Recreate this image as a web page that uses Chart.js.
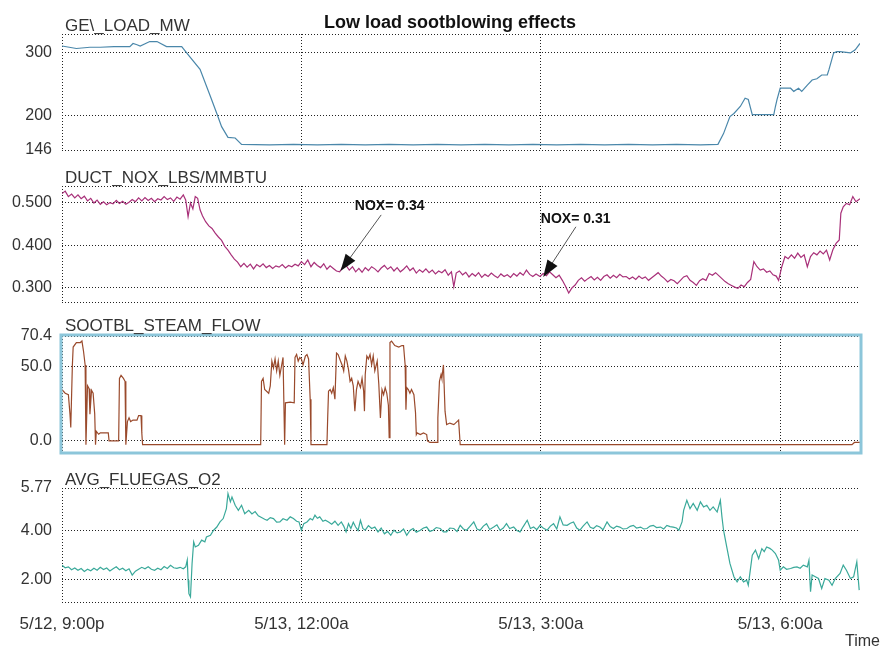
<!DOCTYPE html>
<html>
<head>
<meta charset="utf-8">
<script src="https://cdn.jsdelivr.net/npm/chart.js@4.4.0/dist/chart.umd.min.js"></script>
<style>
  body { margin: 0; background: #fff; }
  #wrap { position: relative; width: 883px; height: 650px; }
  .panel { position: absolute; left: 0; width: 883px; }
</style>
</head>
<body>
<div id="wrap">
  <div class="panel" style="top:0;height:160px"><canvas id="loadChart" width="883" height="160"></canvas></div>
  <div class="panel" style="top:160px;height:155px"><canvas id="noxChart" width="883" height="155"></canvas></div>
  <div class="panel" style="top:315px;height:145px"><canvas id="sootChart" width="883" height="145"></canvas></div>
  <div class="panel" style="top:460px;height:190px"><canvas id="o2Chart" width="883" height="190"></canvas></div>
</div>
<script>
// hours after 5/12 9:00p
const timeTicks = [0, 3, 6, 9];
const timeLabels = ["5/12, 9:00p", "5/13, 12:00a", "5/13, 3:00a", "5/13, 6:00a"];

// === GE\_LOAD_MW ===
const loadHours = [0, 0.18, 0.35, 0.48, 0.65, 0.85, 0.89, 0.94, 0.98, 1.10, 1.19, 1.31, 1.50, 1.60, 1.73, 1.86, 1.94, 2.00, 2.08, 2.17, 2.25,
  2.6, 2.9, 3.2, 3.5, 3.8, 4.1, 4.4, 4.7, 5.0, 5.3, 5.6, 5.9, 6.2, 6.5, 6.8, 7.1, 7.4, 7.7, 8.0, 8.22,
  8.29, 8.37, 8.42, 8.50, 8.56, 8.60, 8.65, 8.69, 8.92, 8.94, 8.96, 9.00, 9.13, 9.17, 9.23, 9.27, 9.34, 9.40, 9.46, 9.52, 9.59, 9.61, 9.67, 9.71, 9.75, 9.88, 9.94, 10.0];
const loadMW = [311, 307, 309, 309, 310, 310, 315, 313, 311, 318, 318, 310, 310, 294, 274, 231, 204, 183, 166, 165, 155,
  154, 155, 154, 155, 154, 155, 154, 155, 154, 155, 154, 155, 154, 155, 154, 155, 154, 155, 154, 155,
  172, 199, 204, 215, 228, 226, 202, 202, 202, 215, 226, 244, 244, 239, 244, 239, 249, 257, 259, 265, 265, 273, 300, 302, 302, 300, 305, 315];

// === DUCT_NOX_LBS/MMBTU ===
const noxHours = [0.00, 0.04, 0.08, 0.12, 0.16, 0.20, 0.24, 0.28, 0.32, 0.36, 0.40, 0.44, 0.48, 0.52, 0.56, 0.60, 0.64, 0.68, 0.72, 0.76,
  0.80, 0.84, 0.88, 0.92, 0.96, 1.00, 1.04, 1.08, 1.12, 1.16, 1.20, 1.24, 1.28, 1.32, 1.36, 1.40, 1.44, 1.48, 1.52, 1.55,
  1.58, 1.61, 1.64, 1.67, 1.70, 1.73, 1.76, 1.80, 1.84, 1.88, 1.92, 1.96, 2.00, 2.04, 2.08, 2.12, 2.16, 2.20, 2.24, 2.28,
  2.32, 2.36, 2.40, 2.44, 2.48, 2.52, 2.56, 2.60, 2.64, 2.68, 2.72, 2.76, 2.80, 2.84, 2.88, 2.92, 2.96, 3.00, 3.04, 3.08,
  3.12, 3.16, 3.20, 3.24, 3.28, 3.32, 3.36, 3.40, 3.44, 3.48, 3.52, 3.56, 3.60, 3.64, 3.68, 3.72, 3.76, 3.80, 3.84, 3.88,
  3.92, 3.96, 4.00, 4.04, 4.08, 4.12, 4.16, 4.20, 4.24, 4.28, 4.32, 4.36, 4.40, 4.44, 4.48, 4.52, 4.56, 4.60, 4.64, 4.68,
  4.72, 4.76, 4.80, 4.84, 4.88, 4.91, 4.94, 4.98, 5.02, 5.06, 5.10, 5.14, 5.18, 5.22, 5.26, 5.30, 5.34, 5.38, 5.42, 5.46,
  5.50, 5.54, 5.58, 5.62, 5.66, 5.70, 5.74, 5.78, 5.82, 5.86, 5.90, 5.94, 5.99, 6.03, 6.07, 6.11, 6.15, 6.19, 6.23, 6.27,
  6.31, 6.35, 6.39, 6.43, 6.47, 6.51, 6.55, 6.59, 6.63, 6.67, 6.71, 6.75, 6.79, 6.83, 6.87, 6.91, 6.95, 6.99, 7.03, 7.07,
  7.11, 7.15, 7.19, 7.23, 7.27, 7.31, 7.35, 7.39, 7.43, 7.47, 7.51, 7.55, 7.59, 7.63, 7.67, 7.71, 7.75, 7.79, 7.83, 7.87,
  7.91, 7.95, 7.99, 8.03, 8.07, 8.11, 8.15, 8.19, 8.23, 8.27, 8.31, 8.35, 8.39, 8.43, 8.47, 8.51, 8.55, 8.59, 8.63, 8.67,
  8.71, 8.75, 8.79, 8.83, 8.87, 8.91, 8.95, 8.98, 9.02, 9.06, 9.10, 9.14, 9.18, 9.22, 9.26, 9.30, 9.34, 9.38, 9.42, 9.46,
  9.50, 9.54, 9.58, 9.62, 9.66, 9.70, 9.74, 9.76, 9.79, 9.83, 9.87, 9.91, 9.95, 10.0];
const noxLbs = [0.522, 0.528, 0.515, 0.521, 0.512, 0.519, 0.510, 0.516, 0.505, 0.511, 0.500, 0.507, 0.497, 0.503, 0.496, 0.501, 0.498, 0.506, 0.499, 0.504,
  0.497, 0.502, 0.508, 0.503, 0.512, 0.505, 0.513, 0.506, 0.511, 0.503, 0.510, 0.507, 0.515, 0.508, 0.512, 0.504, 0.514, 0.509, 0.519, 0.507,
  0.468, 0.500, 0.486, 0.515, 0.511, 0.484, 0.470, 0.456, 0.446, 0.440, 0.429, 0.420, 0.412, 0.398, 0.389, 0.378, 0.368, 0.361, 0.350, 0.358,
  0.349, 0.356, 0.345, 0.355, 0.350, 0.357, 0.348, 0.353, 0.346, 0.352, 0.349, 0.355, 0.347, 0.353, 0.350, 0.356, 0.352, 0.362, 0.355, 0.366,
  0.350, 0.360, 0.353, 0.348, 0.357, 0.344, 0.352, 0.346, 0.340, 0.338, 0.350, 0.353, 0.342, 0.350, 0.338, 0.346, 0.337, 0.348, 0.341, 0.350,
  0.345, 0.338, 0.347, 0.353, 0.344, 0.350, 0.340, 0.348, 0.338, 0.344, 0.352, 0.341, 0.347, 0.335, 0.343, 0.337, 0.345, 0.336, 0.342, 0.333,
  0.340, 0.336, 0.343, 0.330, 0.338, 0.303, 0.335, 0.340, 0.331, 0.337, 0.326, 0.334, 0.328, 0.336, 0.325, 0.332, 0.327, 0.335, 0.329, 0.324,
  0.333, 0.327, 0.331, 0.325, 0.334, 0.328, 0.336, 0.330, 0.342, 0.332, 0.327, 0.333, 0.327, 0.334, 0.329, 0.338, 0.331, 0.324, 0.330, 0.318,
  0.304, 0.288, 0.300, 0.307, 0.318, 0.324, 0.316, 0.322, 0.327, 0.319, 0.325, 0.318, 0.327, 0.331, 0.323, 0.330, 0.324, 0.332, 0.326, 0.327,
  0.321, 0.326, 0.320, 0.328, 0.322, 0.326, 0.318, 0.324, 0.330, 0.336, 0.328, 0.322, 0.314, 0.320, 0.317, 0.310, 0.318, 0.326, 0.329, 0.318,
  0.313, 0.306, 0.317, 0.322, 0.318, 0.334, 0.330, 0.336, 0.329, 0.322, 0.315, 0.310, 0.306, 0.302, 0.299, 0.307, 0.303, 0.313, 0.320, 0.362,
  0.350, 0.342, 0.345, 0.337, 0.340, 0.331, 0.328, 0.318, 0.350, 0.374, 0.369, 0.378, 0.370, 0.382, 0.372, 0.378, 0.350, 0.374, 0.383, 0.378,
  0.387, 0.380, 0.389, 0.366, 0.390, 0.405, 0.413, 0.476, 0.491, 0.499, 0.496, 0.515, 0.503, 0.510];

// === SOOTBL_STEAM_FLOW ===
const sootHours = [0.00, 0.04, 0.08, 0.10, 0.11, 0.13, 0.14, 0.18, 0.23, 0.25, 0.27, 0.29, 0.30, 0.32, 0.34, 0.35, 0.37, 0.39, 0.41, 0.42,
  0.43, 0.46, 0.48, 0.58, 0.59, 0.71, 0.72, 0.74, 0.77, 0.79, 0.80, 0.82, 0.84, 0.86, 0.89, 0.94, 0.96, 0.99, 1.00, 1.01,
  2.49, 2.50, 2.52, 2.54, 2.59, 2.61, 2.63, 2.65, 2.67, 2.69, 2.71, 2.73, 2.76, 2.77, 2.79, 2.80, 2.86, 2.91, 2.92, 2.94,
  2.96, 2.98, 3.00, 3.02, 3.05, 3.07, 3.09, 3.11, 3.12, 3.32, 3.33, 3.34, 3.36, 3.38, 3.40, 3.42, 3.44, 3.46, 3.49, 3.51,
  3.53, 3.55, 3.57, 3.59, 3.61, 3.63, 3.65, 3.67, 3.69, 3.71, 3.74, 3.76, 3.78, 3.79, 3.80, 3.82, 3.84, 3.86, 3.88, 3.90,
  3.92, 3.95, 3.97, 3.99, 4.01, 4.03, 4.05, 4.07, 4.09, 4.10, 4.11, 4.13, 4.17, 4.22, 4.26, 4.28, 4.30, 4.31, 4.32, 4.34,
  4.36, 4.38, 4.41, 4.43, 4.44, 4.45, 4.49, 4.53, 4.57, 4.58, 4.61, 4.70, 4.71, 4.73, 4.75, 4.76, 4.78, 4.80, 4.82, 4.86,
  4.91, 4.95, 4.97, 4.99, 9.90, 9.93, 10.0];
const sootFlow = [34.5, 32, 31, 18, 9, 51, 63, 66, 66, 67, 60, 51, -2.5, 37, 35, 18, 34, 32, 18, -2.5,
  6.5, 4.5, 5.4, 5.4, 0, 0, 42, 44, 42, 40, -2.5, 13, 15.5, 13, 14, 14, 17, 17, 5.4, -2.5,
  -2.5, 40, 42, 34.5, 32, 37, 53.6, 49, 55, 47, 53.6, 44, 53, 56, -2.5, 25.6, 26, 25.6, 56, 58,
  53.6, 56, 55, 51, 57, 58, 55, 28, -2.5, -2.5, 16.6, 33.4, 34.5, 32, 35.8, 28, 59, 58, 53.6, 51,
  47, 57, 53.6, 48, 40, 42, 37, 20, 34.5, 40, 35.8, 42, 33.4, 20, 44.6, 57, 55, 58, 51, 57,
  47, 53.6, 38, 15.5, 34.5, 31, 35.8, 32, 24, 2.3, 66, 67, 64, 63, 64, 64, 51, 21, 35.8, 34.5,
  32, 34.5, 31, 19, 4.3, 5.4, 4.3, 5.4, 4.3, 0, -1, -1, 15.5, 40, 44.6, 42, 51, 20, 11, 12,
  11, 13, 14, -2.5, -2.5, -1, -1];

// === AVG_FLUEGAS_O2 ===
const o2Hours = [0.00, 0.04, 0.08, 0.12, 0.16, 0.20, 0.24, 0.28, 0.32, 0.36, 0.40, 0.44, 0.48, 0.52, 0.56, 0.60, 0.64, 0.68, 0.72, 0.76,
  0.80, 0.84, 0.88, 0.92, 0.96, 1.00, 1.04, 1.08, 1.12, 1.16, 1.20, 1.24, 1.28, 1.32, 1.36, 1.40, 1.44, 1.48, 1.52, 1.55,
  1.57, 1.58, 1.59, 1.61, 1.62, 1.63, 1.65, 1.67, 1.71, 1.75, 1.79, 1.81, 1.86, 1.90, 1.94, 1.98, 2.02, 2.06, 2.08, 2.11,
  2.13, 2.17, 2.21, 2.25, 2.29, 2.34, 2.38, 2.42, 2.46, 2.50, 2.54, 2.57, 2.61, 2.65, 2.69, 2.73, 2.77, 2.82, 2.86, 2.90,
  2.94, 2.97, 3.00, 3.03, 3.07, 3.11, 3.14, 3.17, 3.20, 3.23, 3.27, 3.30, 3.34, 3.38, 3.42, 3.46, 3.50, 3.53, 3.56, 3.59,
  3.62, 3.65, 3.68, 3.71, 3.74, 3.77, 3.80, 3.84, 3.88, 3.92, 3.96, 4.00, 4.04, 4.08, 4.12, 4.16, 4.20, 4.24, 4.28, 4.32,
  4.36, 4.40, 4.44, 4.49, 4.53, 4.57, 4.61, 4.65, 4.69, 4.74, 4.78, 4.82, 4.86, 4.91, 4.95, 4.99, 5.03, 5.07, 5.11, 5.16,
  5.20, 5.24, 5.28, 5.32, 5.36, 5.41, 5.45, 5.49, 5.53, 5.57, 5.61, 5.66, 5.70, 5.74, 5.78, 5.83, 5.87, 5.91, 5.95, 5.99,
  6.03, 6.08, 6.12, 6.16, 6.20, 6.24, 6.28, 6.33, 6.37, 6.41, 6.45, 6.49, 6.53, 6.58, 6.62, 6.66, 6.70, 6.74, 6.78, 6.83,
  6.87, 6.91, 6.95, 6.99, 7.03, 7.08, 7.12, 7.16, 7.20, 7.25, 7.29, 7.33, 7.37, 7.41, 7.45, 7.50, 7.54, 7.58, 7.62, 7.66,
  7.70, 7.73, 7.77, 7.79, 7.83, 7.87, 7.91, 7.96, 8.00, 8.04, 8.08, 8.12, 8.16, 8.21, 8.25, 8.27, 8.29, 8.33, 8.37, 8.42,
  8.46, 8.50, 8.54, 8.58, 8.60, 8.62, 8.65, 8.69, 8.73, 8.77, 8.80, 8.83, 8.87, 8.90, 8.94, 8.98, 9.00, 9.04, 9.08, 9.13,
  9.17, 9.21, 9.25, 9.29, 9.34, 9.36, 9.38, 9.40, 9.44, 9.48, 9.52, 9.56, 9.61, 9.65, 9.69, 9.75, 9.79, 9.83, 9.88, 9.92,
  9.96, 9.99];
const o2Pct = [2.59, 2.48, 2.52, 2.40, 2.47, 2.38, 2.45, 2.33, 2.42, 2.36, 2.46, 2.38, 2.50, 2.41, 2.47, 2.35, 2.44, 2.52, 2.40, 2.46,
  2.36, 2.44, 2.18, 2.34, 2.42, 2.50, 2.44, 2.52, 2.42, 2.38, 2.46, 2.40, 2.53, 2.45, 2.58, 2.48, 2.46, 2.50, 2.44, 2.52,
  2.80, 1.97, 1.42, 1.28, 1.97, 2.66, 3.55, 3.34, 3.41, 3.62, 3.55, 3.75, 3.82, 4.03, 4.16, 4.37, 4.51, 4.92, 5.54, 5.20,
  5.40, 5.06, 4.85, 5.06, 4.71, 4.85, 4.70, 4.80, 4.62, 4.55, 4.48, 4.44, 4.55, 4.51, 4.36, 4.37, 4.50, 4.44, 4.58, 4.51,
  4.40, 4.37, 4.03, 4.30, 4.37, 4.51, 4.45, 4.65, 4.52, 4.58, 4.40, 4.44, 4.37, 4.28, 4.40, 4.23, 4.37, 4.20, 3.96, 4.30,
  4.10, 4.36, 4.16, 4.02, 4.44, 4.10, 4.03, 4.22, 4.10, 4.16, 3.96, 4.12, 3.88, 3.98, 3.82, 4.03, 3.92, 3.96, 4.08, 3.82,
  4.02, 4.10, 3.95, 4.03, 4.12, 4.16, 3.98, 4.03, 4.14, 4.10, 3.96, 3.96, 4.12, 4.10, 3.98, 4.23, 4.08, 4.03, 4.18, 4.37,
  4.08, 4.03, 4.20, 4.30, 4.06, 4.16, 4.25, 4.03, 4.12, 4.30, 4.10, 4.16, 4.02, 3.96, 4.18, 4.44, 4.10, 4.16, 4.05, 4.23,
  4.12, 4.03, 4.20, 4.30, 4.08, 4.58, 4.25, 4.23, 4.32, 4.37, 4.12, 4.03, 4.20, 4.37, 4.15, 4.10, 4.22, 4.16, 4.05, 4.37,
  4.18, 4.10, 4.20, 4.16, 4.08, 4.10, 4.19, 4.23, 4.12, 4.16, 4.08, 4.10, 4.20, 4.23, 4.14, 4.16, 4.08, 4.23, 4.18, 4.16,
  4.12, 4.03, 4.37, 4.85, 5.26, 4.92, 5.13, 4.85, 5.20, 4.99, 5.06, 4.85, 4.99, 4.78, 5.26, 4.58, 4.03, 3.34, 2.66, 2.11,
  1.90, 2.11, 1.90, 1.97, 1.76, 2.25, 3.00, 3.21, 2.86, 3.27, 3.15, 3.34, 3.28, 3.21, 3.07, 2.79, 2.38, 2.52, 2.42, 2.45,
  2.50, 2.52, 2.46, 2.59, 2.52, 2.79, 1.49, 2.18, 2.11, 2.04, 1.63, 2.04, 1.97, 1.76, 2.04, 2.25, 2.59, 2.38, 2.04, 2.11,
  2.73, 1.56];

// NOX call-outs: label position and arrow (from -> tip) in hours / lbs
const noteLabels = ["NOX= 0.34", "NOX= 0.31"];
const noteTextHours = [3.67, 6.00];
const noteTextValues = [0.4835, 0.453];
const arrowFromHours = [4.00, 6.44];
const arrowFromValues = [0.472, 0.444];
const arrowTipHours = [3.49, 6.03];
const arrowTipValues = [0.340, 0.326];

const FONT = "'Liberation Sans', Arial, sans-serif";
Chart.defaults.font.family = FONT;
Chart.defaults.color = "#333";

const panelPlugin = {
  id: "panelText",
  afterDraw(chart, args, o) {
    const { ctx, chartArea: a, scales } = chart;
    ctx.save();
    if (o.box) {
      ctx.strokeStyle = "#8cc6da";
      ctx.lineWidth = 3;
      ctx.strokeRect(a.left - 1, a.top - 1, a.right - a.left + 2, a.bottom - a.top + 2);
    }
    ctx.fillStyle = "#333";
    ctx.textAlign = "left";
    ctx.textBaseline = "alphabetic";
    ctx.font = "17px " + FONT;
    ctx.fillText(o.name, a.left + 3, a.top - (o.box ? 5 : 3));

    if (o.title) {
      ctx.fillStyle = "#111";
      ctx.textAlign = "center";
      ctx.font = "bold 18px " + FONT;
      ctx.fillText(o.title, 450, 28);
    }
    if (o.notes) {
      const x = scales.x, y = scales.y;
      noteLabels.forEach((txt, i) => {
        ctx.fillStyle = "#111";
        ctx.textAlign = "left";
        ctx.font = "bold 14px " + FONT;
        ctx.fillText(txt, x.getPixelForValue(noteTextHours[i]), y.getPixelForValue(noteTextValues[i]));
        const x0 = x.getPixelForValue(arrowFromHours[i]), y0 = y.getPixelForValue(arrowFromValues[i]);
        const x1 = x.getPixelForValue(arrowTipHours[i]), y1 = y.getPixelForValue(arrowTipValues[i]);
        const ang = Math.atan2(y1 - y0, x1 - x0);
        ctx.strokeStyle = "#555";
        ctx.lineWidth = 1;
        ctx.beginPath();
        ctx.moveTo(x0, y0);
        ctx.lineTo(x1 - 14 * Math.cos(ang), y1 - 14 * Math.sin(ang));
        ctx.stroke();
        ctx.fillStyle = "#111";
        ctx.beginPath();
        ctx.moveTo(x1, y1);
        ctx.lineTo(x1 - 17 * Math.cos(ang) + 6 * Math.sin(ang), y1 - 17 * Math.sin(ang) - 6 * Math.cos(ang));
        ctx.lineTo(x1 - 17 * Math.cos(ang) - 6 * Math.sin(ang), y1 - 17 * Math.sin(ang) + 6 * Math.cos(ang));
        ctx.closePath();
        ctx.fill();
      });
    }
    if (o.timeLabel) {
      ctx.fillStyle = "#333";
      ctx.textAlign = "right";
      ctx.font = "16px " + FONT;
      ctx.fillText(o.timeLabel, 880, chart.height - 4);
    }
    ctx.restore();
  }
};

function makePanel(id, p) {
  return new Chart(document.getElementById(id), {
    type: "line",
    data: {
      datasets: [{
        label: p.name,
        data: p.hours.map((h, i) => ({ x: h, y: p.values[i] })),
        borderColor: p.color,
        borderWidth: 1.2,
        pointRadius: 0,
        tension: 0
      }]
    },
    options: {
      responsive: false,
      animation: false,
      layout: { padding: { top: p.padTop, bottom: p.padBottom, left: 0, right: 23 } },
      plugins: {
        legend: { display: false },
        tooltip: { enabled: false },
        panelText: { name: p.name, box: p.box, title: p.title, notes: p.notes, timeLabel: p.timeLabel }
      },
      scales: {
        x: {
          type: "linear", min: 0, max: 10,
          afterBuildTicks: s => { s.ticks = timeTicks.map(v => ({ value: v })); },
          afterFit: s => { s.height = p.xHeight; s.paddingLeft = 0; s.paddingRight = 0; },
          grid: { color: "#222", drawTicks: false },
          border: { display: false, dash: [1, 2] },
          ticks: {
            display: !!p.showX, maxRotation: 0, autoSkip: false, padding: 12,
            font: { size: 17 },
            callback: v => timeLabels[timeTicks.indexOf(v)]
          }
        },
        y: {
          min: p.min, max: p.max,
          afterBuildTicks: s => { s.ticks = p.ticks.map(v => ({ value: v })); },
          afterFit: s => { s.width = 62; s.paddingTop = 0; s.paddingBottom = 0; },
          grid: { color: "#222", drawTicks: false },
          border: { display: false, dash: [1, 2] },
          ticks: {
            padding: 10, font: { size: 16 },
            callback: v => { const k = p.ticks.indexOf(v); return k >= 0 ? p.tickLabels[k] : ""; }
          }
        }
      }
    },
    plugins: [panelPlugin]
  });
}

makePanel("loadChart", {
  name: "GE\\_LOAD_MW", title: "Low load sootblowing effects",
  hours: loadHours, values: loadMW, color: "#4a87aa",
  min: 146, max: 330, ticks: [146, 200, 300, 330], tickLabels: ["146", "200", "300", ""],
  padTop: 34, padBottom: 10, xHeight: 0
});
makePanel("noxChart", {
  name: "DUCT_NOX_LBS/MMBTU", notes: true,
  hours: noxHours, values: noxLbs, color: "#a83079",
  min: 0.267, max: 0.540, ticks: [0.267, 0.3, 0.4, 0.5, 0.540], tickLabels: ["", "0.300", "0.400", "0.500", ""],
  padTop: 26, padBottom: 13, xHeight: 0
});
makePanel("sootChart", {
  name: "SOOTBL_STEAM_FLOW", box: true,
  hours: sootHours, values: sootFlow, color: "#9a4a2c",
  min: -7.4, max: 70.4, ticks: [-7.4, 0, 50, 70.4], tickLabels: ["", "0.0", "50.0", "70.4"],
  padTop: 21, padBottom: 8, xHeight: 0
});
makePanel("o2Chart", {
  name: "AVG_FLUEGAS_O2", timeLabel: "Time", showX: true,
  hours: o2Hours, values: o2Pct, color: "#3aa99a",
  min: 1.07, max: 5.77, ticks: [1.07, 2, 4, 5.77], tickLabels: ["", "2.00", "4.00", "5.77"],
  padTop: 28, padBottom: 0, xHeight: 48
});
</script>
</body>
</html>
